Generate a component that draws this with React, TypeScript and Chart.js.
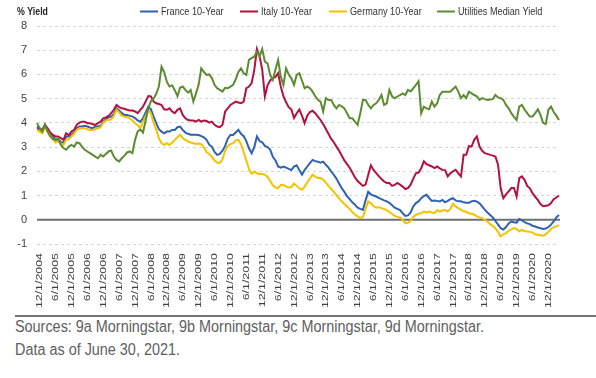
import React, { useEffect, useRef } from "react";
import { Chart, registerables } from "chart.js";

Chart.register(...registerables);

// ---------- data ----------
const startMonth = 12;
const startYear = 2004;
const monthCount = 198;
const categories: string[] = Array.from({ length: monthCount }, (_, i) => {
  const mm = ((startMonth - 1 + i) % 12) + 1;
  const yy = startYear + Math.floor((startMonth - 1 + i) / 12);
  return `${mm}/1/${yy}`;
});
const labelEvery = 6;

const seriesNames = ["France 10-Year", "Italy 10-Year", "Germany 10-Year", "Utilities Median Yield"];
const seriesColors = ["#2f62b0", "#b3123f", "#f3c300", "#5b8c31"];

const france = [
  3.85, 3.78, 3.71, 3.92, 3.71, 3.55, 3.44, 3.3, 3.3, 3.23, 3.16, 3.44,
  3.44, 3.51, 3.6, 3.78, 3.85, 3.85, 3.88, 3.85, 3.81, 3.78, 3.85, 3.85,
  3.88, 4.05, 4.15, 4.23, 4.26, 4.37, 4.6, 4.51, 4.4, 4.33, 4.33, 4.29,
  4.27, 4.2, 4.1, 4.05, 4.19, 4.43, 4.67, 4.56, 4.26, 3.99, 3.74, 3.64,
  3.57, 3.64, 3.64, 3.71, 3.71, 3.82, 3.85, 3.71, 3.6, 3.55, 3.51, 3.51,
  3.51, 3.5, 3.45, 3.4, 3.3, 3.1, 3.02, 2.8, 2.68, 2.72, 2.85, 3.05,
  3.35, 3.5, 3.5, 3.6, 3.71, 3.55, 3.45, 3.25, 2.95, 2.75, 3.0, 3.44,
  3.25, 3.2, 3.05, 3.0, 2.9, 2.6, 2.45, 2.2, 2.15, 2.2, 2.15, 2.1,
  2.05, 2.2, 2.25, 2.05, 1.86, 2.05, 2.2, 2.34, 2.47, 2.42, 2.4, 2.36,
  2.4, 2.27, 2.15, 2.0, 1.86, 1.7, 1.5, 1.3, 1.15, 0.98, 0.85, 0.72,
  0.62, 0.5, 0.45, 0.41, 0.8, 1.15, 1.05, 1.0, 0.96, 0.9, 0.85, 0.8,
  0.76, 0.7, 0.6, 0.5, 0.45, 0.4, 0.27, 0.16, 0.18, 0.3, 0.55, 0.69,
  0.76, 0.89, 0.98, 1.03, 0.9, 0.78, 0.8, 0.78, 0.76, 0.82, 0.72, 0.78,
  0.85, 0.89, 0.8, 0.76, 0.76, 0.72, 0.7, 0.7, 0.76, 0.78, 0.75, 0.68,
  0.55, 0.42, 0.3, 0.2, 0.1, -0.05, -0.2, -0.35, -0.4, -0.3, -0.15, -0.07,
  -0.1, -0.12, 0.03, -0.02, -0.1, -0.15, -0.18, -0.25, -0.28, -0.32, -0.35, -0.38,
  -0.36, -0.3, -0.2, -0.07, 0.1, 0.2,
];

const italy = [
  3.78, 3.74, 3.64, 3.92, 3.78, 3.6, 3.5, 3.44, 3.44, 3.37, 3.3, 3.57,
  3.5, 3.64, 3.71, 3.92, 4.01, 4.05, 4.05, 3.99, 3.99, 3.94, 3.92, 3.99,
  4.05, 4.19, 4.23, 4.29, 4.4, 4.54, 4.74, 4.65, 4.6, 4.58, 4.54, 4.51,
  4.51, 4.47, 4.4, 4.54, 4.67, 4.88, 5.11, 5.09, 4.88, 4.81, 4.78, 4.74,
  4.56, 4.54, 4.6, 4.47, 4.4, 4.54, 4.6, 4.33, 4.19, 4.12, 4.1, 4.1,
  4.05, 4.12, 4.05, 4.1, 4.08, 4.01, 4.05, 3.92, 3.85, 3.82, 3.92, 4.47,
  4.6, 4.74, 4.81, 4.88, 4.84, 4.81, 4.88, 5.43, 5.5, 5.64, 6.19, 7.05,
  6.75, 6.2, 5.1, 5.55, 5.75, 5.85, 5.9, 6.05, 5.5, 5.1, 4.85, 4.65,
  4.55, 4.2, 4.4, 4.55, 4.3, 3.99, 4.3, 4.45, 4.5, 4.4, 4.26, 4.12,
  3.95, 3.75, 3.55, 3.35, 3.2, 3.02, 2.85, 2.65, 2.45, 2.3, 2.15, 1.95,
  1.75, 1.6, 1.5, 1.4, 1.45, 1.85, 2.25, 2.06, 1.93, 1.8, 1.68, 1.58,
  1.52, 1.52, 1.4, 1.44, 1.52, 1.45, 1.37, 1.27, 1.31, 1.45, 1.7, 1.92,
  1.95, 2.13, 2.41, 2.3, 2.25, 2.2, 2.13, 2.2, 2.12, 2.06, 2.05, 1.79,
  1.92, 2.0, 2.06, 1.92, 1.79, 2.68, 2.68, 3.05, 3.02, 3.3, 3.44, 3.02,
  2.85, 2.75, 2.72, 2.68, 2.65, 2.61, 2.27, 1.3, 0.89, 1.05, 1.17, 1.31,
  1.31, 0.96, 1.72, 1.79, 1.65, 1.4, 1.3, 1.1, 0.95, 0.82, 0.65, 0.56,
  0.58, 0.6, 0.69, 0.85, 0.92, 1.0,
];

const germany = [
  3.71, 3.64, 3.57, 3.82, 3.64, 3.46, 3.33, 3.19, 3.23, 3.16, 3.09, 3.3,
  3.33, 3.44, 3.55, 3.71, 3.78, 3.78, 3.78, 3.74, 3.71, 3.71, 3.75, 3.78,
  3.82, 4.01, 4.1, 4.12, 4.15, 4.29, 4.54, 4.43, 4.29, 4.26, 4.23, 4.19,
  4.1, 3.98, 3.9, 3.78, 4.05, 4.29, 4.51, 4.4, 4.01, 3.71, 3.37, 3.16,
  3.09, 3.16, 3.09, 3.19, 3.3, 3.41, 3.51, 3.37, 3.3, 3.23, 3.19, 3.16,
  3.13, 3.15, 3.12, 2.98, 2.8, 2.72, 2.6, 2.45, 2.36, 2.34, 2.5, 2.85,
  3.05, 3.12, 3.16, 3.28, 3.3, 3.12, 2.8, 2.45, 2.1, 1.9, 1.99, 1.92,
  1.88, 1.9, 1.86, 1.78, 1.6, 1.42, 1.33, 1.31, 1.44, 1.44, 1.38, 1.33,
  1.35, 1.5, 1.4, 1.3, 1.24, 1.37, 1.55, 1.7, 1.86, 1.78, 1.72, 1.72,
  1.66, 1.53, 1.4, 1.28, 1.15, 1.02, 0.88, 0.75, 0.65, 0.55, 0.45, 0.32,
  0.22, 0.14, 0.07, 0.12, 0.45, 0.76, 0.69, 0.56, 0.5, 0.52, 0.48, 0.44,
  0.4, 0.32, 0.24, 0.16, 0.12, 0.1, 0.0, -0.15, -0.12, -0.06, 0.12, 0.21,
  0.25, 0.27, 0.34, 0.3, 0.34, 0.3, 0.27, 0.4, 0.34, 0.38, 0.41, 0.34,
  0.45, 0.66, 0.55, 0.48, 0.41, 0.36, 0.32, 0.27, 0.25, 0.21, 0.14, 0.1,
  0.07, 0.0, -0.07, -0.18, -0.25, -0.36, -0.5, -0.69, -0.6, -0.55, -0.46, -0.4,
  -0.34, -0.38, -0.48, -0.42, -0.46, -0.48, -0.5, -0.52, -0.6, -0.62, -0.64, -0.66,
  -0.6, -0.5, -0.38, -0.3, -0.27, -0.22,
];

const utilities = [
  3.99, 3.78, 3.64, 3.92, 3.64, 3.44, 3.33, 3.3, 3.37, 3.09, 2.96, 2.89,
  3.02, 3.09, 3.02, 3.19, 3.16, 3.02, 2.89, 2.82, 2.75, 2.68, 2.61, 2.54,
  2.68, 2.61, 2.72, 2.82, 2.86, 2.61, 2.47, 2.41, 2.54, 2.65, 2.78, 2.82,
  2.75, 3.3, 3.65, 3.72, 3.6, 4.1, 4.6, 4.9, 5.0, 5.2, 5.5, 6.32,
  6.1, 5.7, 5.5, 5.55, 5.35, 5.1, 5.45, 5.5, 5.36, 5.25, 5.36, 4.88,
  5.22, 5.57, 6.25, 6.1, 5.98, 6.0, 5.85, 5.57, 5.43, 5.36, 5.29, 5.45,
  5.43, 5.5, 5.57, 5.8, 6.1, 6.25, 6.05, 5.98, 6.6, 6.67, 6.74, 6.94,
  6.74, 7.05, 6.53, 6.46, 5.98, 5.77, 6.2, 6.6, 5.91, 5.57, 6.25, 6.0,
  5.84, 5.57, 5.98, 6.05, 5.75, 5.43, 5.5, 5.43, 5.29, 5.1, 4.95, 4.88,
  4.47, 5.02, 4.95, 4.95, 4.74, 4.6, 4.74, 4.68, 4.6, 4.4, 4.19, 4.19,
  4.05, 3.92, 4.4, 4.95, 4.95, 4.75, 4.6, 4.74, 4.81, 4.95, 5.15, 4.74,
  4.81, 5.36, 5.1, 5.02, 5.09, 5.15, 5.22, 5.15, 5.36, 5.3, 5.43, 5.57,
  5.72, 4.4, 4.67, 4.6, 4.56, 4.88, 4.67, 4.81, 5.15, 5.29, 5.29, 5.29,
  5.29, 5.4, 5.5, 5.29, 5.02, 5.15, 5.02, 5.29, 5.22, 5.15, 5.1, 4.95,
  5.02, 4.98, 4.95, 4.97, 4.98, 5.15, 5.05, 5.02, 4.95, 4.74, 4.6, 4.4,
  4.25, 4.12, 4.67, 4.74, 4.55, 4.4, 4.26, 4.26, 4.4, 4.56, 4.33, 4.0,
  3.95, 4.54, 4.67, 4.45, 4.3, 4.12,
];

const seriesValues = [france, italy, germany, utilities];
const yMin = -1;
const yMax = 8;
const yStep = 1;
const yAxisTitle = "% Yield";
const sourceNote = "Sources: 9a Morningstar, 9b Morningstar, 9c Morningstar, 9d Morningstar.";
const dateNote = "Data as of June 30, 2021.";

// ---------- layout / style ----------
const W = 596;
const CANVAS_H = 312;
const FONT = "'Liberation Sans', Arial, sans-serif";
const legendLineX = [140, 240, 329, 437];
const LEGEND_Y = 11.5;

const decorPlugin = {
  id: "decor",
  beforeDatasetsDraw(chart: any) {
    const { ctx, chartArea, scales } = chart;
    const y0 = scales.y.getPixelForValue(0);
    ctx.save();
    ctx.strokeStyle = "#707070";
    ctx.lineWidth = 2;
    ctx.beginPath();
    ctx.moveTo(chartArea.left, y0);
    ctx.lineTo(chartArea.right + 1, y0);
    ctx.stroke();
    ctx.restore();
  },
  afterDraw(chart: any) {
    const { ctx, scales } = chart;
    const xs = scales.x;
    // rotated category labels
    ctx.save();
    ctx.fillStyle = "#404040";
    ctx.font = `12.4px ${FONT}`;
    ctx.textAlign = "right";
    ctx.textBaseline = "middle";
    categories.forEach((lab, i) => {
      if (i % labelEvery !== 0) return;
      const x = xs.getPixelForValue(i) + 2.5;
      ctx.save();
      ctx.translate(x, xs.top + 9);
      ctx.rotate(-Math.PI / 2);
      ctx.scale(1, 0.8);
      ctx.fillText(lab, 0, 0);
      ctx.restore();
    });
    ctx.restore();

    // y axis title
    ctx.save();
    ctx.fillStyle = "#262626";
    ctx.font = `bold 11px ${FONT}`;
    ctx.textAlign = "left";
    ctx.textBaseline = "middle";
    ctx.translate(17, LEGEND_Y);
    ctx.scale(0.8, 1);
    ctx.fillText(yAxisTitle, 0, 0);
    ctx.restore();

    // legend
    chart.data.datasets.forEach((ds: any, i: number) => {
      const x0 = legendLineX[i];
      ctx.save();
      ctx.strokeStyle = ds.borderColor;
      ctx.lineWidth = 2;
      ctx.beginPath();
      ctx.moveTo(x0, LEGEND_Y);
      ctx.lineTo(x0 + 18, LEGEND_Y);
      ctx.stroke();
      ctx.fillStyle = "#333333";
      ctx.font = `11px ${FONT}`;
      ctx.textAlign = "left";
      ctx.textBaseline = "middle";
      ctx.translate(x0 + 21, LEGEND_Y);
      ctx.scale(0.83, 1);
      ctx.fillText(ds.label, 0, 0);
      ctx.restore();
    });
  },
};

export default function App() {
  const canvasRef = useRef<HTMLCanvasElement | null>(null);

  useEffect(() => {
    if (!canvasRef.current) return;
    const chart = new Chart(canvasRef.current, {
      type: "line",
      data: {
        labels: categories,
        datasets: seriesNames.map((name, i) => ({
          label: name,
          data: seriesValues[i],
          borderColor: seriesColors[i],
          backgroundColor: seriesColors[i],
          borderWidth: 2,
          pointRadius: 0,
          pointHoverRadius: 0,
          fill: false,
          tension: 0,
          order: seriesNames.length - 1 - i,
        })),
      },
      options: {
        animation: false,
        responsive: false,
        devicePixelRatio: 1,
        layout: { padding: { top: 26, right: 37, bottom: 0, left: 0 } },
        plugins: {
          legend: { display: false },
          tooltip: { enabled: false },
        },
        scales: {
          x: {
            type: "category",
            offset: false,
            grid: { display: false },
            border: { display: false },
            ticks: { display: false },
            afterFit: (scale: any) => {
              scale.height = CANVAS_H - 244;
            },
          },
          y: {
            min: yMin,
            max: yMax,
            grid: {
              drawTicks: false,
              color: (c: any) => (c.tick && c.tick.value === 0 ? "rgba(0,0,0,0)" : "#d4d4d4"),
              lineWidth: 1,
            },
            border: { display: false, dash: [3, 3] },
            ticks: {
              stepSize: yStep,
              padding: 10,
              color: "#404040",
              font: { family: FONT, size: 11 },
            },
            afterFit: (scale: any) => {
              scale.width = 37;
            },
          },
        },
      },
      plugins: [decorPlugin],
    });
    return () => chart.destroy();
  }, []);

  return (
    <div style={{ position: "absolute", left: 0, top: 0, width: W, height: 378, background: "#fff", overflow: "hidden" }}>
      <canvas ref={canvasRef} width={W} height={CANVAS_H} style={{ display: "block", width: W, height: CANVAS_H }} />
      <div style={{ position: "absolute", left: 15, top: 314.5, width: W - 15, height: 0, borderTop: "2px solid #767676" }} />
      <div
        style={{
          position: "absolute",
          left: 15,
          top: 316.2,
          fontFamily: FONT,
          fontSize: 16,
          lineHeight: "22.5px",
          color: "#606060",
          whiteSpace: "nowrap",
          transform: "scaleX(0.9)",
          transformOrigin: "0 0",
        }}
      >
        <div>{sourceNote}</div>
        <div>{dateNote}</div>
      </div>
    </div>
  );
}
